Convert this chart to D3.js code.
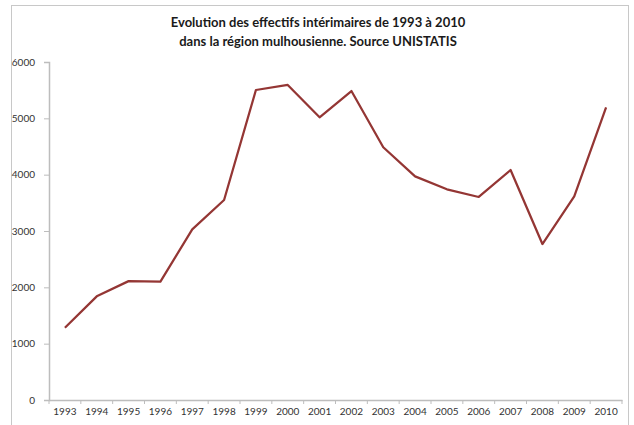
<!DOCTYPE html>
<html>
<head>
<meta charset="utf-8">
<script src="https://cdn.jsdelivr.net/npm/d3@7"></script>
<style>
  body { margin: 0; background: #fff; }
  svg { display: block; }
</style>
</head>
<body>
<div id="chart"></div>
<script>
// values
var years = ["1993", "1994", "1995", "1996", "1997", "1998", "1999", "2000", "2001",
  "2002", "2003", "2004", "2005", "2006", "2007", "2008", "2009", "2010"];
var effectifs = [1283, 1840, 2110, 2100, 3030, 3550, 5503, 5592, 5018,
  5485, 4486, 3970, 3740, 3604, 4083, 2769, 3615, 5196];
var yTicks = [0, 1000, 2000, 3000, 4000, 5000, 6000];
var titleLines = ["Evolution des effectifs intérimaires de 1993 à 2010",
  "dans la région mulhousienne. Source UNISTATIS"];

var W = 634, H = 425;
var margin = { top: 62, right: 12, bottom: 25, left: 49 },
  width = W - margin.left - margin.right,
  height = H - margin.top - margin.bottom;

var svg = d3.select("#chart").append("svg")
  .attr("width", W)
  .attr("height", H);

// chart frame
svg.append("rect")
  .attr("x", 11.5).attr("y", 5.5)
  .attr("width", 617).attr("height", 440)
  .attr("fill", "none")
  .attr("stroke", "#c8c8c8");

svg.selectAll("text.title")
  .data(titleLines)
  .enter().append("text")
  .attr("class", "title")
  .attr("x", 318)
  .attr("y", (d, i) => 27 + i * 19)
  .attr("text-anchor", "middle")
  .style("font-family", "Lato, 'Open Sans', sans-serif")
  .style("font-weight", "bold")
  .style("font-size", "13px")
  .style("fill", "#1a1a1a")
  .text(d => d);

var g = svg.append("g")
  .attr("transform", "translate(" + margin.left + "," + margin.top + ")");

var x = d3.scaleBand()
  .domain(years)
  .range([0, width]);

var y = d3.scaleLinear()
  .domain([0, 6000])
  .range([height, 0]);

// x axis: ticks between categories like excel
var xAxis = g.append("g")
  .attr("transform", "translate(0," + height + ")")
  .call(d3.axisBottom(x).tickSize(0).tickPadding(8));
xAxis.select(".domain").attr("stroke", "#bdbdbd").attr("stroke-width", 1.5);
xAxis.selectAll("text")
  .style("font-family", "Lato, 'Open Sans', sans-serif")
  .style("font-size", "10px")
  .style("fill", "#333");
xAxis.selectAll(".sep")
  .data(years.concat(["end"]))
  .enter().append("line")
  .attr("class", "sep")
  .attr("x1", (d, i) => i * x.bandwidth())
  .attr("x2", (d, i) => i * x.bandwidth())
  .attr("y1", 0).attr("y2", 4)
  .attr("stroke", "#bdbdbd");

var yAxis = g.append("g")
  .call(d3.axisLeft(y).tickValues(yTicks).tickSize(5).tickPadding(9).tickFormat(d3.format("d")));
yAxis.select(".domain").attr("stroke", "#bdbdbd").attr("stroke-width", 1.5);
yAxis.selectAll(".tick line").attr("stroke", "#bdbdbd");
yAxis.selectAll("text")
  .style("font-family", "Lato, 'Open Sans', sans-serif")
  .style("font-size", "10px")
  .style("fill", "#333");

var line = d3.line()
  .x((d, i) => x(years[i]) + x.bandwidth() / 2)
  .y(d => y(d));

g.append("path")
  .datum(effectifs)
  .attr("fill", "none")
  .attr("stroke", "#943634")
  .attr("stroke-width", 2.25)
  .attr("stroke-linejoin", "round")
  .attr("d", line);
</script>
</body>
</html>
